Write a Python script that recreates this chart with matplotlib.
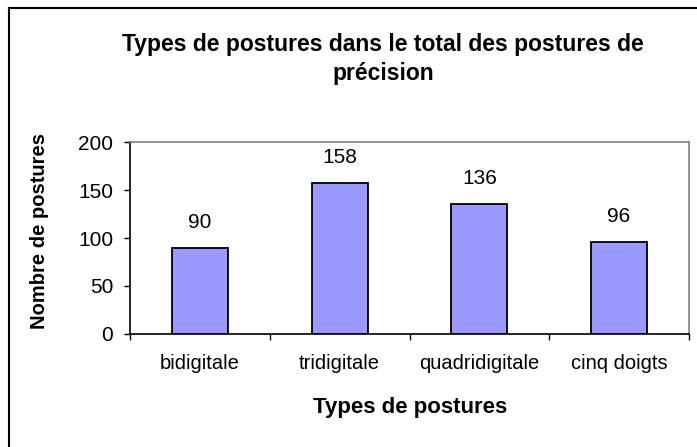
import matplotlib
matplotlib.use("Agg")
import matplotlib.pyplot as plt
from matplotlib.lines import Line2D

categories = ["bidigitale", "tridigitale", "quadridigitale", "cinq doigts"]
values = [90, 158, 136, 96]
yticks = [0, 50, 100, 150, 200]

plt.rcParams['font.family'] = ['Liberation Sans', 'DejaVu Sans']

W, H = 697, 447
fig = plt.figure(figsize=(W / 100, H / 100), dpi=100)

# outer chart border (only left and top visible in the crop)
fig.add_artist(Line2D([9 / W, 9 / W], [0, 1 - 8 / H], color='black', lw=1.5, transform=fig.transFigure))
fig.add_artist(Line2D([9 / W, 1], [1 - 8 / H, 1 - 8 / H], color='black', lw=1.5, transform=fig.transFigure))

ax = fig.add_axes([130 / W, 1 - 333.5 / H, (689 - 130) / W, (333.5 - 142.5) / H])
x = list(range(len(categories)))
ax.bar(x, values, width=0.4, color='#9999FF', edgecolor='black', linewidth=1.3, zorder=3)
for xi, v in zip(x, values):
    ax.text(xi, v + 20.5, str(v), ha='center', va='baseline', fontsize=15)

ax.set_xlim(-0.5, len(categories) - 0.5)
ax.set_ylim(0, 200)
ax.set_yticks(yticks)
ax.set_yticklabels([str(t) for t in yticks], fontsize=15)
ax.set_xticks([i - 0.5 for i in range(len(categories) + 1)], minor=False)
ax.set_xticklabels([])
ax.set_xticks(x, minor=True)
ax.set_xticklabels(categories, minor=True, fontsize=14.5)
ax.tick_params(axis='x', which='minor', length=0, pad=15)
ax.tick_params(axis='x', which='major', direction='out', length=4.5, width=1)
ax.tick_params(axis='y', direction='out', length=4.5, width=1, pad=7.5)

for side in ['top', 'right']:
    ax.spines[side].set_color('#808080')
    ax.spines[side].set_linewidth(1.2)
for side in ['left', 'bottom']:
    ax.spines[side].set_color('black')
    ax.spines[side].set_linewidth(1.2)

fig.text(410 / W, 1 - 408 / H, "Types de postures", ha='center', va='center',
         fontsize=16, fontweight='bold')
fig.text(40 / W, 1 - 231 / H, "Nombre de postures", ha='center', va='center',
         rotation=90, fontsize=14.5, fontweight='bold')

fig.text(383 / W, 1 - 59 / H, "Types de postures dans le total des postures de\nprécision",
         ha='center', va='center', fontsize=16.5, fontweight='bold', linespacing=1.3)

fig.savefig("out.png", dpi=100)
